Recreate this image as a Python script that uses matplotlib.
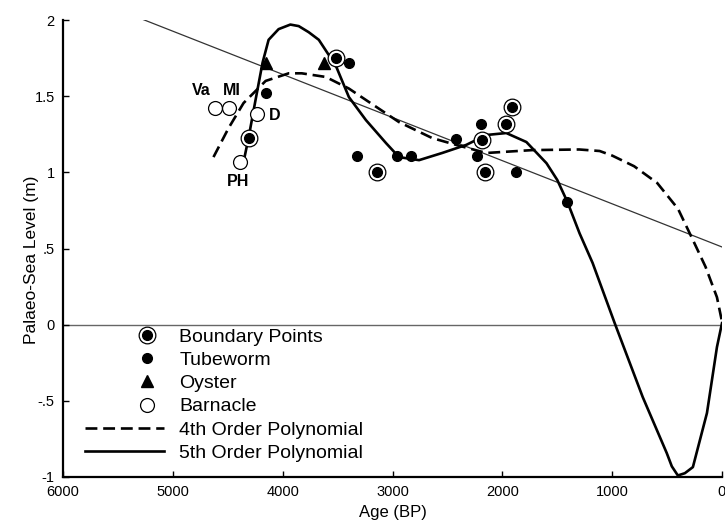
import matplotlib
matplotlib.use("Agg")
import matplotlib.pyplot as plt
from matplotlib.lines import Line2D
from matplotlib.legend_handler import HandlerBase

plt.rcParams['font.family'] = ['Liberation Sans', 'DejaVu Sans']

# ---- data ----
boundary_x = [4311, 3516, 3142, 2183, 2155, 1964, 1909]
boundary_y = [1.225, 1.75, 1.00, 1.21, 1.00, 1.32, 1.43]

tubeworm_x = [4155, 3397, 3324, 2959, 2831, 2420, 2192, 2228, 1872, 1407]
tubeworm_y = [1.52, 1.72, 1.107, 1.107, 1.11, 1.22, 1.317, 1.11, 1.00, 0.805]

oyster_x = [4155, 3626]
oyster_y = [1.72, 1.72]

barnacle_x = [4612, 4493, 4238, 4393]
barnacle_y = [1.42, 1.42, 1.38, 1.068]

site_labels = ["Va", "MI", "D", "PH"]
site_x = [4740, 4460, 4070, 4402]
site_y = [1.54, 1.54, 1.37, 0.94]

linear_x = [5330, 0]
linear_y = [2.02, 0.51]

poly4_x = [4630, 4493, 4356, 4155, 3945, 3826, 3607, 3397, 3242, 2941, 2639,
           2420, 2146, 1726, 1300, 1114, 1000, 800, 590, 400, 265, 150, 46, 0]
poly4_y = [1.10, 1.29, 1.455, 1.60, 1.65, 1.65, 1.626, 1.55, 1.475, 1.33, 1.225,
           1.18, 1.127, 1.146, 1.15, 1.14, 1.11, 1.04, 0.93, 0.76, 0.556, 0.38, 0.18, 0.02]

poly5_x = [4380, 4347, 4311, 4247, 4183, 4128, 4037, 3930, 3854, 3763, 3671, 3516,
           3397, 3242, 3059, 2941, 2758, 2548, 2329, 2146, 1964, 1781, 1598, 1500,
           1407, 1297, 1178, 977, 722, 503, 457, 402, 338, 265, 137, 46, 0]
poly5_y = [1.05, 1.10, 1.225, 1.475, 1.72, 1.87, 1.94, 1.97, 1.96, 1.92, 1.87, 1.70,
           1.494, 1.343, 1.192, 1.10, 1.08, 1.127, 1.18, 1.245, 1.258, 1.199, 1.06, 0.95,
           0.805, 0.60, 0.405, 0.01, -0.475, -0.843, -0.93, -0.99, -0.975, -0.935, -0.58, -0.147, 0.01]

x_ticks = [6000, 5000, 4000, 3000, 2000, 1000, 0]
y_ticks = [-1, -0.5, 0, 0.5, 1, 1.5, 2]
y_ticklabels = ["-1", "-.5", "0", ".5", "1", "1.5", "2"]

# ---- figure ----
fig = plt.figure(figsize=(7.25, 5.27), dpi=100)
ax = fig.add_axes([63/725, 1-477/527, (722-63)/725, (477-20)/527])

ax.axhline(0, color='#666666', lw=1.0, zorder=1)
ax.plot(linear_x, linear_y, color='#333333', lw=0.9, zorder=2)
ax.plot(poly4_x, poly4_y, color='black', lw=1.9, dashes=(4.5, 2.2), zorder=3)
ax.plot(poly5_x, poly5_y, color='black', lw=1.9, zorder=3)

ax.plot(boundary_x, boundary_y, 'o', ms=12, mfc='white', mec='black', mew=0.9, zorder=5)
ax.plot(boundary_x, boundary_y, 'o', ms=7, mfc='black', mec='black', zorder=6)
ax.plot(tubeworm_x, tubeworm_y, 'o', ms=7, mfc='black', mec='black', zorder=5)
ax.plot(oyster_x, oyster_y, '^', ms=8, mfc='black', mec='black', zorder=5)
ax.plot(barnacle_x, barnacle_y, 'o', ms=10, mfc='white', mec='black', mew=0.9, zorder=5)

for lab, lx, ly in zip(site_labels, site_x, site_y):
    ax.text(lx, ly, lab, fontsize=11.5, fontweight='bold', ha='center', va='center', zorder=7)

ax.set_xlim(6000, 0)
ax.set_ylim(-1, 2)
ax.set_xticks(x_ticks)
ax.set_xticklabels([str(v) for v in x_ticks])
ax.set_yticks(y_ticks)
ax.set_yticklabels(y_ticklabels)
ax.tick_params(direction='in', length=4, width=1, labelsize=10.5, pad=6)
ax.spines['top'].set_visible(False)
ax.spines['right'].set_visible(False)
ax.spines['left'].set_linewidth(1.6)
ax.spines['bottom'].set_linewidth(1.6)
ax.set_xlabel("Age (BP)", fontsize=12, labelpad=4)
ax.set_ylabel("Palaeo-Sea Level (m)", fontsize=12.5)
ax.yaxis.set_label_coords(-0.036, 0.475)


class MarkerRight(HandlerBase):
    def __init__(self, frac=0.775, inner=False):
        super().__init__()
        self.frac = frac
        self.inner = inner

    def create_artists(self, legend, orig_handle, xdescent, ydescent, width, height, fontsize, trans):
        x = -xdescent + self.frac * width
        y = (height - ydescent) / 2
        m = Line2D([x], [y], ls='none', marker=orig_handle.get_marker(),
                   ms=orig_handle.get_markersize(), mfc=orig_handle.get_markerfacecolor(),
                   mec=orig_handle.get_markeredgecolor(), mew=orig_handle.get_markeredgewidth())
        m.set_transform(trans)
        arts = [m]
        if self.inner:
            d = Line2D([x], [y], ls='none', marker='o', ms=7, mfc='black', mec='black')
            d.set_transform(trans)
            arts.append(d)
        return arts


h_b = Line2D([], [], ls='none', marker='o', ms=12, mfc='white', mec='black', mew=0.9)
h_t = Line2D([], [], ls='none', marker='o', ms=7, mfc='black', mec='black')
h_o = Line2D([], [], ls='none', marker='^', ms=8, mfc='black', mec='black')
h_ba = Line2D([], [], ls='none', marker='o', ms=10, mfc='white', mec='black', mew=0.9)
h_4 = Line2D([], [], color='black', lw=1.9, dashes=(4.5, 2.2))
h_5 = Line2D([], [], color='black', lw=1.9)

leg = ax.legend([h_b, h_t, h_o, h_ba, h_4, h_5],
                ["Boundary Points", "Tubeworm", "Oyster", "Barnacle",
                 "4th Order Polynomial", "5th Order Polynomial"],
                loc='upper left', bbox_to_anchor=(0.033, 0.326), frameon=False,
                fontsize=14, handlelength=4.1, handletextpad=0.77,
                labelspacing=0.29, borderpad=0, borderaxespad=0, numpoints=1,
                handler_map={h_b: MarkerRight(inner=True), h_t: MarkerRight(),
                             h_o: MarkerRight(), h_ba: MarkerRight()})

fig.savefig("out.png", dpi=100)
